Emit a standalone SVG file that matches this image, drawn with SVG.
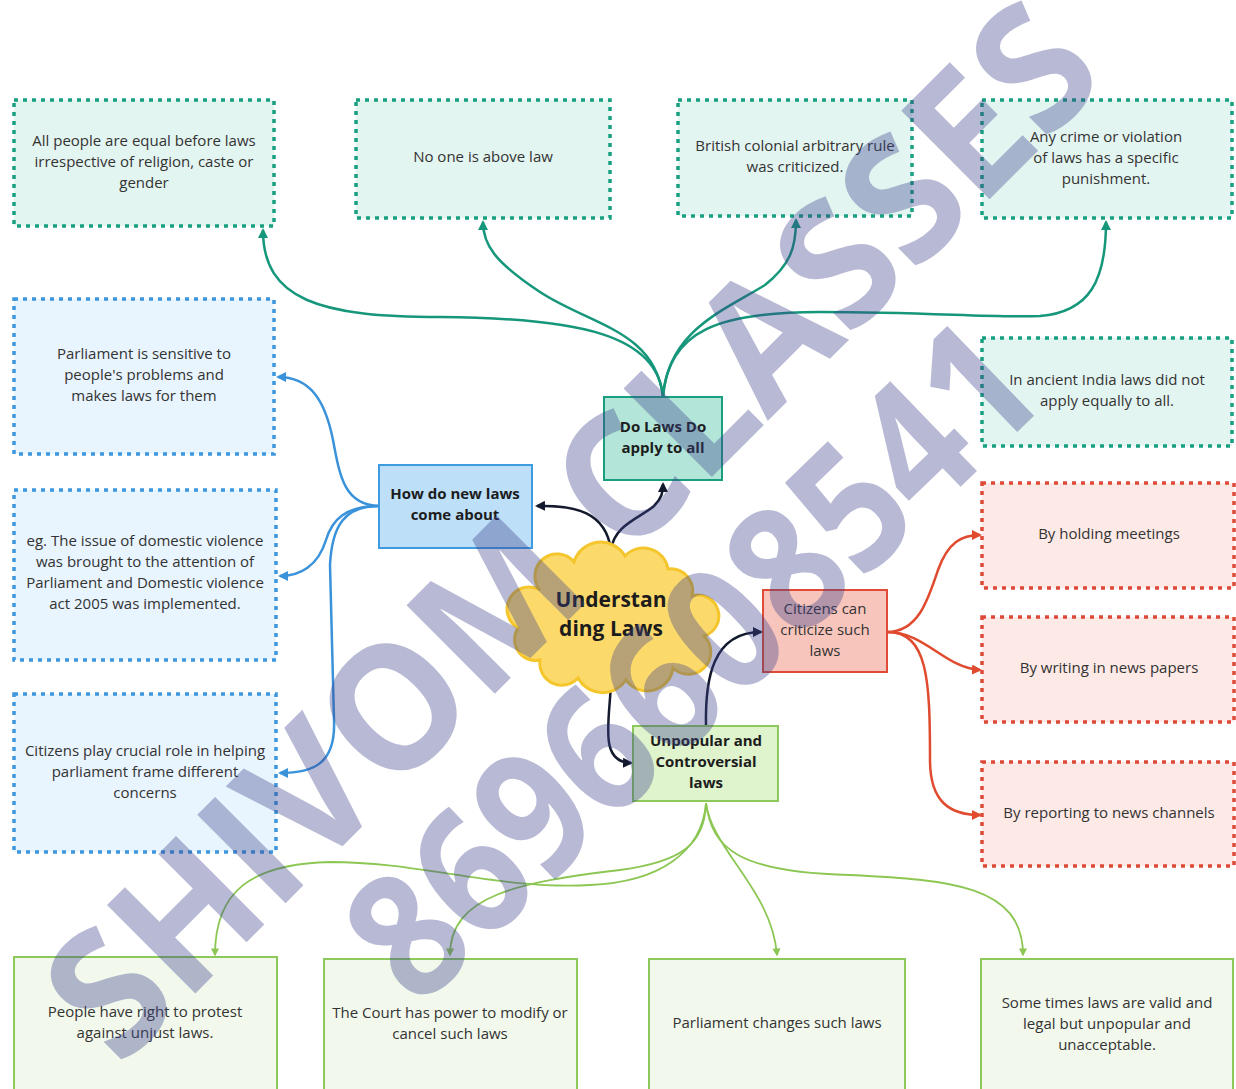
<svg xmlns="http://www.w3.org/2000/svg" width="1236" height="1089" viewBox="0 0 1236 1089">
<defs>
<style>
text{font-family:"Open Sans","Noto Sans","Liberation Sans",sans-serif;fill:#333;font-size:15px;text-anchor:middle}
.b{font-weight:bold;fill:#1c1c1c}
.tealbox{fill:#e3f5f1;stroke:#19a080;stroke-width:3.5;stroke-dasharray:4 5}
.bluebox{fill:#e8f4fe;stroke:#3c97de;stroke-width:3.5;stroke-dasharray:4 5}
.redbox{fill:#fde9e6;stroke:#de4a38;stroke-width:3.5;stroke-dasharray:4 5}
.greenbox{fill:#f2f8ec;stroke:#8dc85a;stroke-width:2}
.c{fill:none;stroke-width:2.5}
.ct{stroke:#16967a}
.cb{stroke:#3a93da}
.ck{stroke:#141a2e}
.cr{stroke:#e04a2e}
.cg{stroke:#8cc653;stroke-width:1.8}
.wm{font-family:"Open Sans","Liberation Sans",sans-serif;font-weight:bold;fill:#3c428c;opacity:0.36;font-size:175px}
</style>
<marker id="at" viewBox="0 0 10 10" refX="8" refY="5" markerWidth="4" markerHeight="4" orient="auto"><path d="M0,0 L10,5 L0,10 z" fill="#16967a"/></marker>
<marker id="ab" viewBox="0 0 10 10" refX="8" refY="5" markerWidth="4" markerHeight="4" orient="auto"><path d="M0,0 L10,5 L0,10 z" fill="#3a93da"/></marker>
<marker id="ak" viewBox="0 0 10 10" refX="8" refY="5" markerWidth="4" markerHeight="4" orient="auto"><path d="M0,0 L10,5 L0,10 z" fill="#141a2e"/></marker>
<marker id="ar" viewBox="0 0 10 10" refX="8" refY="5" markerWidth="4" markerHeight="4" orient="auto"><path d="M0,0 L10,5 L0,10 z" fill="#e04a2e"/></marker>
<marker id="ag" viewBox="0 0 10 10" refX="8" refY="5" markerWidth="5" markerHeight="4.5" orient="auto"><path d="M0,0 L10,5 L0,10 z" fill="#8cc653"/></marker>
</defs>
<rect width="1236" height="1089" fill="#ffffff"/>

<g id="connectors">
<path class="c ct" marker-end="url(#at)" d="M663,397 C658,335 580,318 440,317 C320,317 263,300 263,230"/>
<path class="c ct" marker-end="url(#at)" d="M663,397 C655,330 590,325 540,292 C495,262 483,245 483,222"/>
<path class="c ct" marker-end="url(#at)" d="M663,397 C668,330 725,310 765,285 C790,265 796,248 796,220"/>
<path class="c ct" marker-end="url(#at)" d="M663,397 C668,330 720,312 820,312 C930,312 990,318 1040,316 C1090,312 1106,280 1106,222"/>

<path class="c cb" marker-end="url(#ab)" d="M379,506 C345,505 340,478 333,440 C325,400 310,377 278,377"/>
<path class="c cb" marker-end="url(#ab)" d="M379,506 C345,506 332,520 326,540 C318,566 300,576 280,576"/>
<path class="c cb" marker-end="url(#ab)" d="M379,506 C345,506 332,525 330,565 L334,720 C336,765 312,773 280,773"/>

<path class="c ck" marker-end="url(#ak)" d="M611,550 C606,512 575,505 537,506"/>
<path class="c ck" marker-end="url(#ak)" d="M611,550 C614,525 640,518 654,506 C662,498 663,492 663,484"/>
<path class="c ck" marker-end="url(#ak)" d="M611,681 C610,720 598,762 631,763"/>
<path class="c ck" marker-end="url(#ak)" d="M706,726 C705,680 712,632 761,632"/>

<path class="c cr" marker-end="url(#ar)" d="M887,632 C918,632 928,600 938,570 C948,542 962,535 980,535"/>
<path class="c cr" marker-end="url(#ar)" d="M887,632 C925,632 945,668 980,670"/>
<path class="c cr" marker-end="url(#ar)" d="M887,632 C928,632 930,680 930,760 C930,802 950,815 980,815"/>

<path class="c cg" marker-end="url(#ag)" d="M706,803 C702,852 660,882 590,885 C500,890 420,862 330,862 C250,864 215,892 215,955"/>
<path class="c cg" marker-end="url(#ag)" d="M706,803 C705,845 680,862 620,870 C520,882 450,895 450,955"/>
<path class="c cg" marker-end="url(#ag)" d="M706,803 C712,850 772,890 777,955"/>
<path class="c cg" marker-end="url(#ag)" d="M706,803 C712,850 740,872 850,875 C950,880 1023,885 1023,955"/>
</g>

<g id="n-equal"><rect class="tealbox" x="14" y="100" width="260" height="126"/><text x="144" y="146">All people are equal before laws</text><text x="144" y="167">irrespective of religion, caste or</text><text x="144" y="188">gender</text></g>
<g id="n-noone"><rect class="tealbox" x="356" y="100" width="254" height="118"/><text x="483" y="162">No one is above law</text></g>
<g id="n-british"><rect class="tealbox" x="678" y="100" width="234" height="116"/><text x="795" y="151">British colonial arbitrary rule</text><text x="795" y="172">was criticized.</text></g>
<g id="n-crime"><rect class="tealbox" x="982" y="100" width="250" height="118"/><text x="1106" y="142">Any crime or violation</text><text x="1106" y="163">of laws has a specific</text><text x="1106" y="184">punishment.</text></g>
<g id="n-ancient"><rect class="tealbox" x="982" y="338" width="250" height="108"/><text x="1107" y="385">In ancient India laws did not</text><text x="1107" y="406">apply equally to all.</text></g>

<g id="n-sensitive"><rect class="bluebox" x="14" y="299" width="260" height="155"/><text x="144" y="359">Parliament is sensitive to</text><text x="144" y="380">people's problems and</text><text x="144" y="401">makes laws for them</text></g>
<g id="n-domestic"><rect class="bluebox" x="14" y="490" width="262" height="170"/><text x="145" y="546">eg. The issue of domestic violence</text><text x="145" y="567">was brought to the attention of</text><text x="145" y="588">Parliament and Domestic violence</text><text x="145" y="609">act 2005 was implemented.</text></g>
<g id="n-citizensrole"><rect class="bluebox" x="14" y="694" width="262" height="158"/><text x="145" y="756">Citizens play crucial role in helping</text><text x="145" y="777">parliament frame different</text><text x="145" y="798">concerns</text></g>

<g id="n-meetings"><rect class="redbox" x="982" y="483" width="252" height="105"/><text x="1109" y="539">By holding meetings</text></g>
<g id="n-papers"><rect class="redbox" x="982" y="617" width="252" height="105"/><text x="1109" y="673">By writing in news papers</text></g>
<g id="n-channels"><rect class="redbox" x="982" y="762" width="252" height="104"/><text x="1109" y="818">By reporting to news channels</text></g>

<g id="n-protest"><rect class="greenbox" x="14" y="957" width="263" height="140"/><text x="145" y="1017">People have right to protest</text><text x="145" y="1038">against unjust laws.</text></g>
<g id="n-court"><rect class="greenbox" x="324" y="959" width="253" height="140"/><text x="450" y="1018">The Court has power to modify or</text><text x="450" y="1039">cancel such laws</text></g>
<g id="n-parl"><rect class="greenbox" x="649" y="959" width="256" height="140"/><text x="777" y="1028">Parliament changes such laws</text></g>
<g id="n-sometimes"><rect class="greenbox" x="981" y="959" width="252" height="140"/><text x="1107" y="1008">Some times laws are valid and</text><text x="1107" y="1029">legal but unpopular and</text><text x="1107" y="1050">unacceptable.</text></g>

<g id="n-dolaws"><rect x="604" y="397" width="118" height="83" fill="#b3e6d8" stroke="#1a9e80" stroke-width="2"/><text class="b" x="663" y="432">Do Laws Do</text><text class="b" x="663" y="453">apply to all</text></g>
<g id="n-howdo"><rect x="379" y="465" width="153" height="83" fill="#bddff8" stroke="#3d9be0" stroke-width="2"/><text class="b" x="455" y="499">How do new laws</text><text class="b" x="455" y="520">come about</text></g>
<g id="n-citizens"><rect x="763" y="590" width="124" height="82" fill="#f8c5bc" stroke="#df4b36" stroke-width="2"/><text x="825" y="614">Citizens can</text><text x="825" y="635">criticize such</text><text x="825" y="656">laws</text></g>
<g id="n-unpopular"><rect x="633" y="726" width="145" height="75" fill="#dff3cc" stroke="#8dc85a" stroke-width="2"/><text class="b" x="706" y="746">Unpopular and</text><text class="b" x="706" y="767">Controversial</text><text class="b" x="706" y="788">laws</text></g>
<g id="n-center"><path d="M540,590 A22,22 0 0 1 574,562 A28,28 0 0 1 625,556 A25,25 0 0 1 668,569 A22,22 0 0 1 692,596 A20,20 0 0 1 704,636 A22,22 0 0 1 673,668 A26,26 0 0 1 626,680 A28,28 0 0 1 578,678 A22,22 0 0 1 540,660 A21,21 0 0 1 518,628 A20,20 0 0 1 540,590 Z" fill="#fcd96b" stroke="#f4c62c" stroke-width="3"/><text class="b" x="611" y="607" style="font-size:21px">Understan</text><text class="b" x="611" y="636" style="font-size:21px">ding Laws</text></g>

<g id="watermark">
<text class="wm" transform="translate(571,530) rotate(-45)" y="62" textLength="1400" lengthAdjust="spacingAndGlyphs">SHIVOM CLASSES</text>
<text class="wm" transform="translate(692,660) rotate(-44)" y="62" textLength="880" lengthAdjust="spacingAndGlyphs">8696608541</text>
</g>
</svg>
